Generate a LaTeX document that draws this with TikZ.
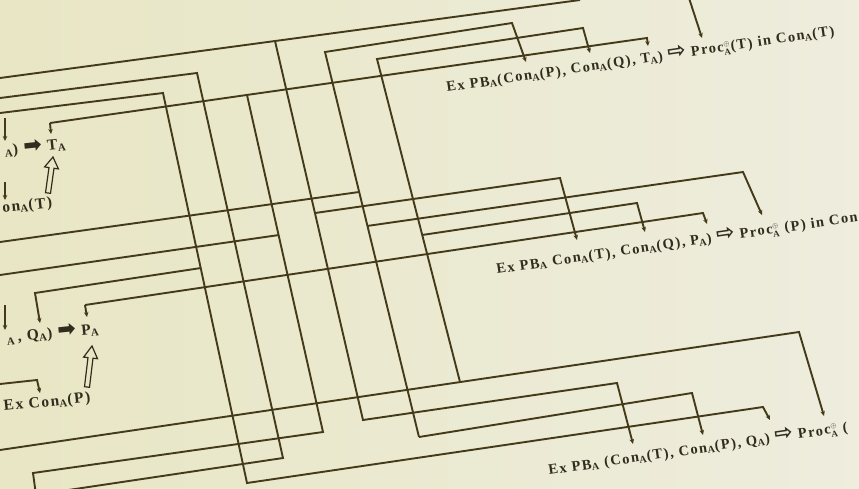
\documentclass[tikz,border=0pt]{standalone}
\usepackage{fontspec}
\setmainfont{Liberation Serif}
\newfontfamily\lab[LetterSpace=10]{Liberation Serif}
\newfontfamily\dv{DejaVu Sans}
\usetikzlibrary{arrows.meta}
\definecolor{paperL}{RGB}{232,230,196}
\definecolor{paperR}{RGB}{238,237,222}
\definecolor{ink}{RGB}{68,58,26}
\definecolor{txt}{RGB}{48,44,30}
\newcommand{\sA}{\textsubscript{A}}
\newcommand{\proc}{$^{\scriptscriptstyle\oplus}_{\mbox{\fontsize{9}{9}\selectfont\lab\bfseries A}}$}
\newcommand{\oarr}{{\dv\bfseries\fontsize{22}{22}\selectfont ⇨}}
\newcommand{\farr}{{\dv\bfseries\fontsize{22}{22}\selectfont ➡}}
\begin{document}
\begin{tikzpicture}[x=1pt,y=-1pt,
  wire/.style={draw=ink,line width=1.9pt,line join=miter},
  tip/.style={-{Stealth[length=5pt,width=4.5pt]}},
  lbl/.style={text=txt,font=\lab\bfseries\fontsize{14.5}{16}\selectfont,inner sep=0pt,rotate=8.3,anchor=base west},
  lblL/.style={text=txt,font=\lab\bfseries\fontsize{15.5}{17}\selectfont,inner sep=0pt,rotate=6,anchor=base west},
  bigarrow/.style={draw=txt,line width=1.2pt,fill=paperL}]
\useasboundingbox (0,0) rectangle (859,488);
\shade[left color=paperL,right color=paperR] (0,0) rectangle (859,488);
\clip (0,0) rectangle (859,488);

% named points
\coordinate (t0) at (0,78);   \coordinate (t1) at (580,0);   \coordinate (tj) at (275,41);
\coordinate (b307) at (363,420); \coordinate (c307) at (617,383); \coordinate (r3a) at (633,444);
\coordinate (b358) at (419,437); \coordinate (u358) at (325,52); \coordinate (c1a) at (512,23); \coordinate (r1a) at (526,62);
\coordinate (c358) at (692,393); \coordinate (r3b) at (703,435);
\coordinate (b408) at (460,382); \coordinate (u408) at (377,59); \coordinate (c1b) at (583,28); \coordinate (r1b) at (590,53);
\coordinate (tc) at (50,123); \coordinate (c1c) at (647,38); \coordinate (r1c) at (648,46); \coordinate (tai) at (51,134);
\coordinate (j265) at (247,95); \coordinate (b265) at (323,432); \coordinate (l265) at (33,473); \coordinate (e265) at (36,495);
\coordinate (s5) at (0,98); \coordinate (u220) at (197,73); \coordinate (b220) at (283,458); \coordinate (e220) at (55,492);
\coordinate (s6) at (0,113); \coordinate (u182) at (163,93); \coordinate (b182) at (247,483); \coordinate (c182) at (763,407); \coordinate (r3c) at (770,420);
\coordinate (h1a) at (0,242); \coordinate (h1b) at (359,192);
\coordinate (h2a) at (315,213); \coordinate (h2b) at (560,178); \coordinate (r2a) at (577,240);
\coordinate (h3a) at (0,275); \coordinate (h3b) at (279,235);
\coordinate (h4a) at (367,226); \coordinate (h4b) at (743,172); \coordinate (r2d) at (762,215);
\coordinate (h5a) at (201,268); \coordinate (h5b) at (35,293); \coordinate (qai) at (40,323);
\coordinate (h6a) at (85,305); \coordinate (pai) at (87,317); \coordinate (h6b) at (703,213); \coordinate (r2c) at (707,224);
\coordinate (h7a) at (422,235); \coordinate (h7b) at (637,203); \coordinate (r2b) at (645,232);
\coordinate (lg0) at (0,450); \coordinate (lg1) at (799,332); \coordinate (r3d) at (824,416);
\coordinate (p1a) at (688,-5); \coordinate (p1b) at (702,38);
\coordinate (e1a) at (5,118); \coordinate (e1b) at (5,141);
\coordinate (e2a) at (5,182); \coordinate (e2b) at (5,200);
\coordinate (e3a) at (5,305); \coordinate (e3b) at (5,330);
\coordinate (cp0) at (0,384); \coordinate (cp1) at (37,380); \coordinate (cpi) at (40,393);

% wires
\draw[wire] (t0) -- (t1);
\draw[wire,tip] (tj) -- (b307) -- (c307) -- (r3a);
\draw[wire,tip] (b358) -- (u358) -- (c1a) -- (r1a);
\draw[wire,tip] (b358) -- (c358) -- (r3b);
\draw[wire,tip] (b408) -- (u408) -- (c1b) -- (r1b);
\draw[wire,tip] (tc) -- (c1c) -- (r1c);
\draw[wire,tip] (tc) -- (tai);
\draw[wire] (j265) -- (b265) -- (l265) -- (e265);
\draw[wire] (s5) -- (u220) -- (b220) -- (e220);
\draw[wire,tip] (s6) -- (u182) -- (b182) -- (c182) -- (r3c);
\draw[wire] (h1a) -- (h1b);
\draw[wire,tip] (h2a) -- (h2b) -- (r2a);
\draw[wire] (h3a) -- (h3b);
\draw[wire,tip] (h4a) -- (h4b) -- (r2d);
\draw[wire,tip] (h5a) -- (h5b) -- (qai);
\draw[wire,tip] (h6a) -- (pai);
\draw[wire,tip] (h6a) -- (h6b) -- (r2c);
\draw[wire,tip] (h7a) -- (h7b) -- (r2b);
\draw[wire,tip] (lg0) -- (lg1) -- (r3d);
\draw[wire,tip] (p1a) -- (p1b);
\draw[wire,tip] (e1a) -- (e1b);
\draw[wire,tip] (e2a) -- (e2b);
\draw[wire,tip] (e3a) -- (e3b);
\draw[wire,tip] (cp0) -- (cp1) -- (cpi);

% big open arrows
\draw[bigarrow] (45.5,192.7) -- (49.0,167.6) -- (44.6,166.9) -- (53,157) -- (58.4,168.9) -- (54.0,168.3) -- (50.5,193.3) -- cycle;
\draw[bigarrow] (84.5,386.7) -- (88.0,357.6) -- (83.6,357.1) -- (92,346) -- (97.5,358.7) -- (93.0,358.2) -- (89.5,387.3) -- cycle;

% left labels
\node[lblL] (ta) at (5,155) {\sA) \farr{} T\sA};
\node[lblL] (cont) at (-10,214) {Con\sA(T)};
\node[lblL] (pa) at (7,343) {\sA\,, Q\sA) \farr{} P\sA};
\node[lblL] (conp) at (4,411) {Ex Con\sA(P)};

% right labels
\node[lbl] (r1) at (447,92) {Ex PB\sA(Con\sA(P), Con\sA(Q), T\sA) \oarr{} Proc\proc(T) in Con\sA(T)};
\node[lbl] (r2) at (497,274) {Ex PB\sA{} Con\sA(T), Con\sA(Q), P\sA) \oarr{} Proc\proc{} (P) in Con};
\node[lbl] (r3) at (549,475) {Ex PB\sA{} (Con\sA(T), Con\sA(P), Q\sA) \oarr{} Proc\proc{} (};
\end{tikzpicture}
\end{document}
